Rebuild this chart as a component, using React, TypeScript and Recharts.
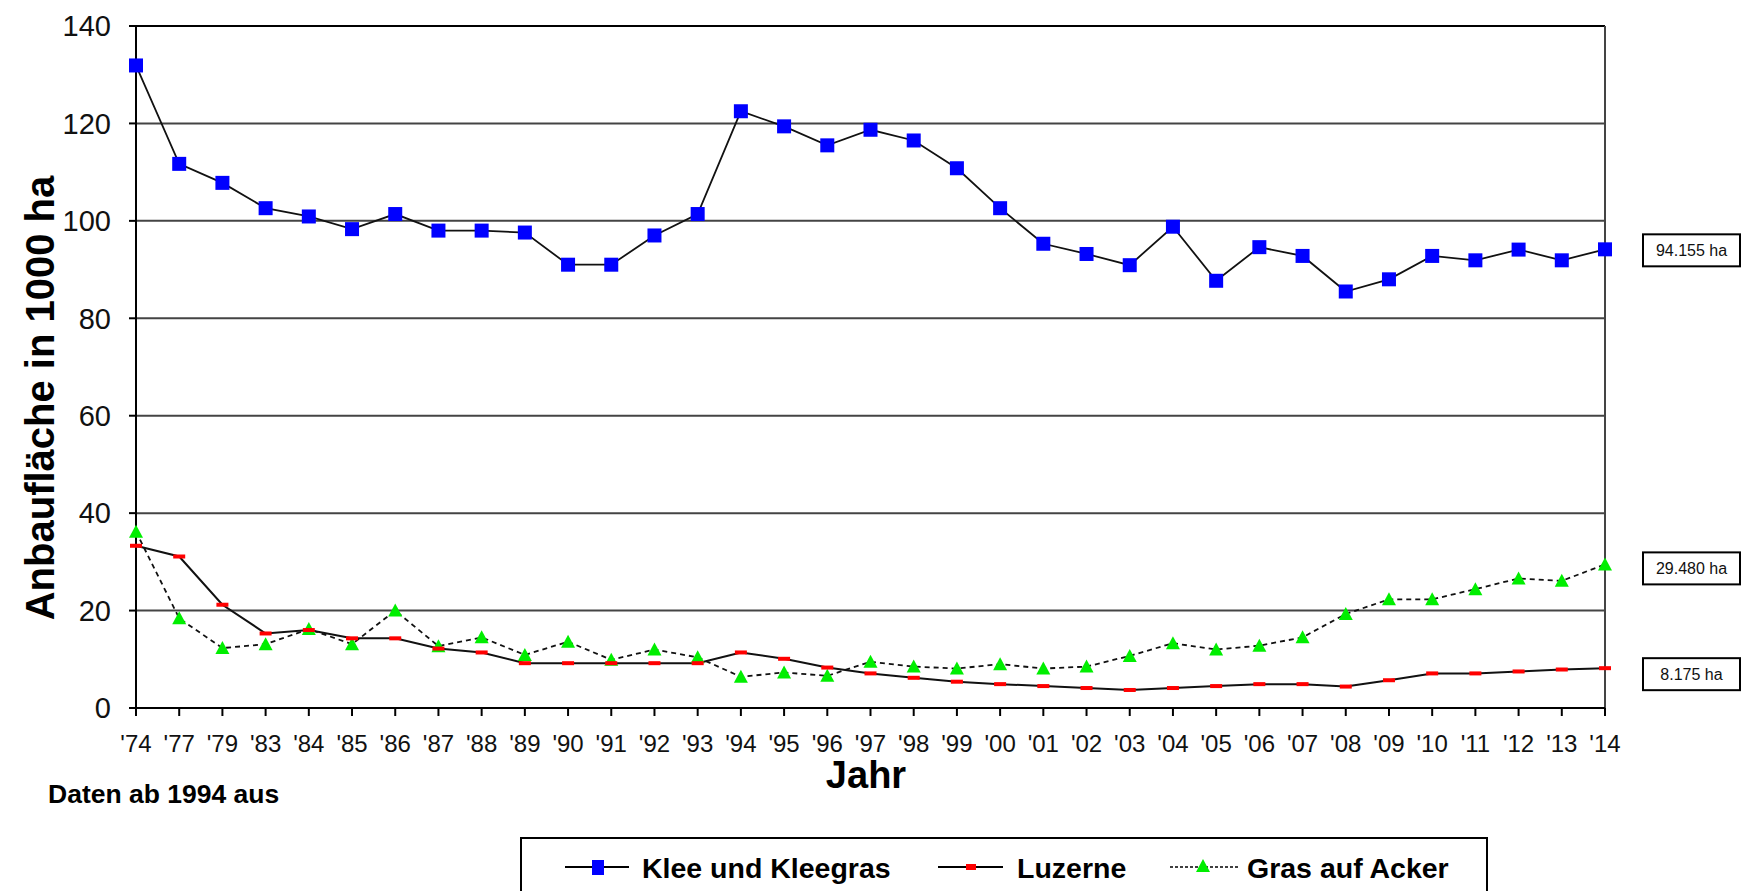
import React from 'react';
import { LineChart, Line, XAxis, YAxis, CartesianGrid, ReferenceLine, ReferenceDot, Legend } from 'recharts';

const years = ["'74", "'77", "'79", "'83", "'84", "'85", "'86", "'87", "'88", "'89", "'90", "'91", "'92", "'93", "'94", "'95", "'96", "'97", "'98", "'99", "'00", "'01", "'02", "'03", "'04", "'05", "'06", "'07", "'08", "'09", "'10", "'11", "'12", "'13", "'14"];
const klee = [131.9, 111.7, 107.8, 102.6, 100.9, 98.3, 101.4, 98.0, 98.0, 97.6, 91.0, 91.0, 97.0, 101.4, 122.5, 119.4, 115.5, 118.7, 116.5, 110.8, 102.6, 95.3, 93.2, 90.9, 98.8, 87.7, 94.6, 92.8, 85.5, 88.0, 92.8, 91.9, 94.1, 91.9, 94.155];
const luzerne = [33.3, 31.1, 21.2, 15.3, 16.0, 14.3, 14.3, 12.2, 11.4, 9.2, 9.2, 9.2, 9.2, 9.2, 11.4, 10.1, 8.3, 7.1, 6.2, 5.4, 4.9, 4.5, 4.1, 3.7, 4.1, 4.5, 4.9, 4.9, 4.4, 5.7, 7.1, 7.1, 7.5, 7.9, 8.175];
const gras = [36.2, 18.4, 12.3, 13.1, 16.2, 13.1, 20.0, 12.7, 14.5, 10.9, 13.6, 9.9, 12.0, 10.4, 6.4, 7.3, 6.6, 9.5, 8.5, 8.1, 9.0, 8.1, 8.5, 10.7, 13.3, 12.0, 12.8, 14.5, 19.3, 22.3, 22.3, 24.4, 26.6, 26.1, 29.48];
const yTicks = [0, 20, 40, 60, 80, 100, 120, 140];
const seriesNames = ['Klee und Kleegras', 'Luzerne', 'Gras auf Acker'];
const endLabels = ['94.155 ha', '29.480 ha', '8.175 ha'];

const data = years.map((year, i) => ({ year, klee: klee[i], luzerne: luzerne[i], gras: gras[i] }));

const FONT = '"Liberation Sans", Arial, sans-serif';

const SquareDot = (p: any) => (
  <rect key={`k${p.index}`} x={p.cx - 7} y={p.cy - 7} width={14} height={14} fill="#0000ff" />
);
const DashDot = (p: any) => (
  <rect key={`l${p.index}`} x={p.cx - 6} y={p.cy - 2} width={12} height={4} fill="#ff0000" />
);
const TriDot = (p: any) => (
  <path key={`g${p.index}`} d={`M${p.cx},${p.cy - 7} L${p.cx + 7},${p.cy + 6} L${p.cx - 7},${p.cy + 6} Z`} fill="#00ee00" />
);

const EndBox = (p: any) => {
  const x = p.cx + 38;
  const cy = p.cy + (p.dy || 0);
  return (
    <g>
      <rect x={x} y={cy - 16} width={97} height={32} fill="#fff" stroke="#000" strokeWidth={2} />
      <text x={x + 48.5} y={cy} textAnchor="middle" dominantBaseline="central" fontSize={16} fontFamily={FONT} fill="#111">{p.text}</text>
    </g>
  );
};

const renderLegend = () => (
  <svg width={968} height={80} style={{ display: 'block' }}>
    <rect x={1} y={1} width={966} height={90} fill="#fff" stroke="#000" strokeWidth={2} />
    <g fontFamily={FONT} fontWeight="bold" fontSize={28.5} fill="#000">
      <line x1={45} x2={109} y1={30} y2={30} stroke="#000" strokeWidth={2} />
      <rect x={72} y={23} width={12} height={15} fill="#0000ff" />
      <text x={122} y={41}>{seriesNames[0]}</text>
      <line x1={418} x2={483} y1={30} y2={30} stroke="#000" strokeWidth={2} />
      <rect x={446} y={27} width={10} height={6} fill="#ff0000" />
      <text x={497} y={41}>{seriesNames[1]}</text>
      <line x1={650} x2={720} y1={30} y2={30} stroke="#000" strokeWidth={1.5} strokeDasharray="3 2" />
      <path d="M683,22 L690,35 L676,35 Z" fill="#00ee00" />
      <text x={727} y={41}>{seriesNames[2]}</text>
    </g>
  </svg>
);

export default function App() {
  return (
    <div style={{ position: 'absolute', left: 0, top: 0, width: 1762, height: 891, overflow: 'hidden', background: '#fff', fontFamily: FONT }}>
      <LineChart width={1762} height={891} data={data} margin={{ top: 26, right: 157, bottom: 143, left: 56 }}>
        <CartesianGrid horizontal vertical={false} stroke="#444" strokeWidth={2} />
        <XAxis
          dataKey="year"
          interval={0}
          height={40}
          tickSize={8}
          tickMargin={19}
          axisLine={{ stroke: '#000', strokeWidth: 2 }}
          tickLine={{ stroke: '#000', strokeWidth: 2 }}
          tick={{ fontSize: 24, fill: '#111', fontFamily: FONT }}
          label={{
            content: () => (
              <g fontFamily={FONT} fontWeight="bold" fill="#000">
                <text x={866} y={788} textAnchor="middle" fontSize={38}>Jahr</text>
                <text x={48} y={803} textAnchor="start" fontSize={26.5}>Daten ab 1994 aus</text>
              </g>
            ),
          }}
        />
        <YAxis
          width={80}
          domain={[0, 140]}
          ticks={yTicks}
          tickSize={7}
          tickMargin={18}
          axisLine={{ stroke: '#000', strokeWidth: 2 }}
          tickLine={{ stroke: '#000', strokeWidth: 2 }}
          tick={{ fontSize: 29, fill: '#111', fontFamily: FONT }}
          label={{
            content: () => (
              <text x={40} y={398} transform="rotate(-90 40 398)" textAnchor="middle" dominantBaseline="central" fontSize={40} fontWeight="bold" fontFamily={FONT} fill="#000">
                Anbaufläche in 1000 ha
              </text>
            ),
          }}
        />
        <ReferenceLine y={140} stroke="#000" strokeWidth={2} />
        <ReferenceLine x={years[years.length - 1]} stroke="#444" strokeWidth={2} />
        <Line dataKey="gras" name={seriesNames[2]} stroke="#111" strokeWidth={1.8} strokeDasharray="5 4" dot={TriDot} activeDot={false} isAnimationActive={false} />
        <Line dataKey="luzerne" name={seriesNames[1]} stroke="#111" strokeWidth={2} dot={DashDot} activeDot={false} isAnimationActive={false} />
        <Line dataKey="klee" name={seriesNames[0]} stroke="#111" strokeWidth={1.8} dot={SquareDot} activeDot={false} isAnimationActive={false} />
        <ReferenceDot x={years[years.length - 1]} y={klee[klee.length - 1]} ifOverflow="visible" shape={(p: any) => <EndBox {...p} text={endLabels[0]} dy={1} />} />
        <ReferenceDot x={years[years.length - 1]} y={gras[gras.length - 1]} ifOverflow="visible" shape={(p: any) => <EndBox {...p} text={endLabels[1]} dy={4} />} />
        <ReferenceDot x={years[years.length - 1]} y={luzerne[luzerne.length - 1]} ifOverflow="visible" shape={(p: any) => <EndBox {...p} text={endLabels[2]} dy={6} />} />
        <Legend
          layout="vertical"
          align="center"
          verticalAlign="middle"
          content={renderLegend}
          wrapperStyle={{ position: 'absolute', left: 520, top: 837, width: 968, height: 80, margin: 0, padding: 0 }}
        />
      </LineChart>
    </div>
  );
}
